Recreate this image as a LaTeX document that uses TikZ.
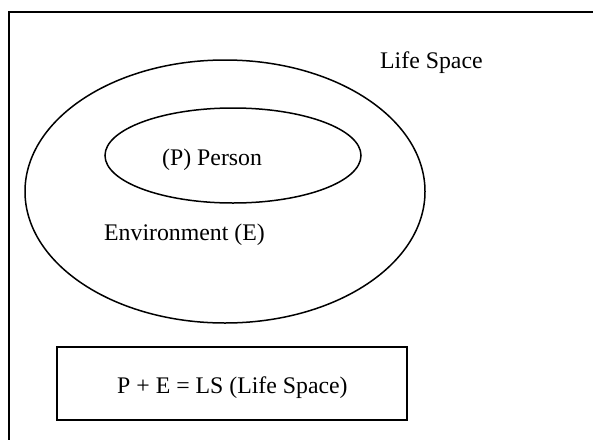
\documentclass[tikz,border=0pt]{standalone}
\usepackage{fontspec}
\setmainfont{Liberation Serif}
\usetikzlibrary{shapes.geometric}
\begin{document}
\begin{tikzpicture}[x=1pt,y=-1pt,
  label text/.style={anchor=base west,inner sep=0pt,font=\fontsize{23.8}{28}\selectfont},
  ring/.style={draw,ellipse,line width=1.5pt,inner sep=0pt},
  frame line/.style={line width=2pt}]
\useasboundingbox (0,0) rectangle (593,439);
\clip (0,0) rectangle (593,439);
% life-space frame (runs off the page on the right and bottom)
\coordinate (frameNW) at (9,12);
\coordinate (frameSE) at (640,480);
\draw[frame line] (frameNW) rectangle (frameSE);
% environment and person regions
\node[ring,minimum width=400pt,minimum height=263pt] (env) at (225,191.5) {};
\node[ring,minimum width=256pt,minimum height=95pt] (person) at (233,155.5) {};
% labels
\node[label text] (lsLabel) at (380,68) {Life Space};
\node[label text] (pLabel) at (162,165) {(P) Person};
\node[label text] (eLabel) at (104,240) {Environment (E)};
% formula box
\node[draw,frame line,minimum width=350pt,minimum height=73pt,inner sep=0pt] (formula) at (232,383.5) {};
\node[label text] (formulaText) at (117,393) {P + E = LS (Life Space)};
\end{tikzpicture}
\end{document}
